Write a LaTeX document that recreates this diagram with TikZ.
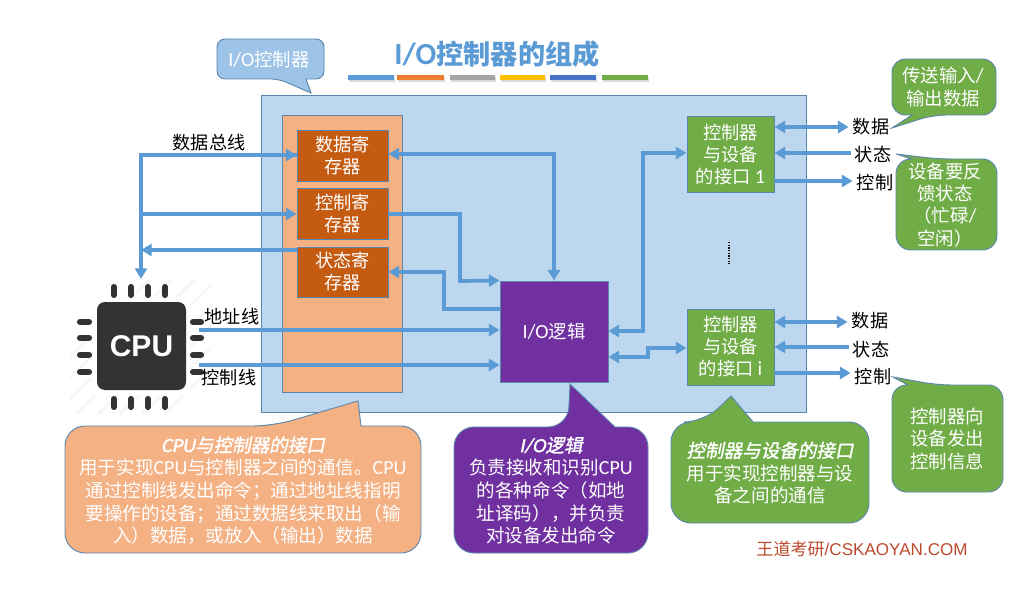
\documentclass[tikz,border=0pt]{standalone}
\usepackage{fontspec}
\usetikzlibrary{arrows.meta}
\setmainfont{Noto Sans CJK SC}
\newfontfamily\latf{Carlito}
\newfontfamily\arialf{Liberation Sans}
\newfontfamily\cjkbi[FakeSlant=0.2,FakeBold=1.5]{Noto Sans CJK SC}
\newfontfamily\latbi[FakeSlant=0.2,FakeBold=1.5]{Carlito}
\newcommand\la[1]{{\latf\fontsize{15pt}{16pt}\selectfont #1}}
\definecolor{edgeblue}{HTML}{5A86AE}
\definecolor{linkblue}{HTML}{5B9BD5}
\definecolor{panelblue}{HTML}{BDD7EE}
\definecolor{peach}{HTML}{F4B183}
\definecolor{rust}{HTML}{C55A11}
\definecolor{violet}{HTML}{7030A0}
\definecolor{leaf}{HTML}{70AD47}
\definecolor{sky}{HTML}{9DC3E6}
\definecolor{brand}{HTML}{BC4A2C}
\tikzset{
  shell/.style={draw=edgeblue,line width=0.7pt,inner sep=0pt,text=white,align=center,
    font=\fontsize{13.7pt}{16.5pt}\selectfont},
  link/.style={draw=linkblue,line width=2.8pt,miter limit=10},
  oneway/.style={link,-{Triangle[length=8pt,width=9pt]}},
  twoway/.style={link,{Triangle[length=8pt,width=9pt]}-{Triangle[length=8pt,width=9pt]}},
  lab/.style={inner sep=3pt,text=black,font=\fontsize{13.6pt}{16pt}\selectfont},
  note/.style={draw=edgeblue,line width=0.7pt},
  notetext/.style={inner sep=0pt,text=white,align=center,font=\fontsize{13.9pt}{17pt}\selectfont},
  sidetext/.style={inner sep=0pt,text=white,align=center,font=\fontsize{13.8pt}{16.6pt}\selectfont},
  pin/.style={draw=black!80,line width=4.6pt,line cap=round}
}
\begin{document}
\begin{tikzpicture}[x=0.75pt,y=-0.75pt]
\useasboundingbox (0,0) rectangle (1017,602);
\fill[white] (0,0) rectangle (1017,602);

% title and coloured rule
\node[inner sep=0pt,text=linkblue,font=\fontsize{20.4pt}{24pt}\selectfont\bfseries] (title) at (497,54) {{\latf\fontsize{23pt}{24pt}\selectfont\bfseries I/O}控制器的组成};
\foreach \xa/\xb/\c in {348/394/5B9BD5,397/444/ED7D31,450/495/A5A5A5,500/545/FFC000,550/596/4472C4,602/648/70AD47}{
  \fill[black,opacity=0.15] (\xa+1,77) rectangle (\xb+1,82);
  \definecolor{barc}{HTML}{\c}
  \fill[barc] (\xa,75) rectangle (\xb,80);
}

% controller body
\node[shell,fill=panelblue,minimum width=545*0.75pt,minimum height=317*0.75pt] (ctrl) at (533.5,253.5) {};
\node[shell,fill=peach,minimum width=120*0.75pt,minimum height=277*0.75pt] (side) at (342,253.5) {};
\node[shell,fill=rust,minimum width=91*0.75pt,minimum height=51*0.75pt] (regdata) at (342.5,155.5) {数据寄\\存器};
\node[shell,fill=rust,minimum width=91*0.75pt,minimum height=51*0.75pt] (regctrl) at (342.5,213.5) {控制寄\\存器};
\node[shell,fill=rust,minimum width=91*0.75pt,minimum height=50*0.75pt] (regstat) at (342.5,272) {状态寄\\存器};
\node[shell,fill=violet,minimum width=108*0.75pt,minimum height=101*0.75pt] (iologic) at (554,331.5) {\la{I/O}逻辑};
\node[shell,fill=leaf,minimum width=87*0.75pt,minimum height=76*0.75pt] (portone) at (730.5,154.5) {控制器\\与设备\\的接口 \la{1}};
\node[shell,fill=leaf,minimum width=87*0.75pt,minimum height=76*0.75pt] (porti) at (730.5,347) {控制器\\与设备\\的接口 \la{i}};
\coordinate (gapa) at (729,242);
\coordinate (gapb) at (729,264);
\draw[black,line width=1.2pt,dash pattern=on 1pt off 1pt] (gapa) -- (gapb);

% processor chip
\begin{scope}
  \clip (70,280) rectangle (212,414);
  \foreach \k in {0,...,7}
    \draw[black!3,line width=2.4pt] (70+\k*22-60,414) -- (70+\k*22+80,280);
\end{scope}
\fill[white] (92,297) rectangle (190,395);
\foreach \x in {114,131,148,165}{
  \draw[pin] (\x,287) -- (\x,295);
  \draw[pin] (\x,399) -- (\x,407);
}
\foreach \y in {322,338,355,372}{
  \draw[pin] (80,\y) -- (89,\y);
  \draw[pin] (193,\y) -- (201,\y);
}
\node[fill=black!80,rounded corners=6pt,minimum width=89*0.75pt,minimum height=88*0.75pt,inner sep=0pt,text=white,font=\fontsize{22.5pt}{26pt}\selectfont\arialf\bfseries] (cpu) at (141.5,346) {CPU};

% signal labels
\node[lab] (busname) at (209,143) {数据总线};
\node[lab] (addrname) at (232,317) {地址线};
\node[lab] (ctlname) at (229,378) {控制线};
\node[lab] (dataone) at (871,127) {数据};
\node[lab] (statone) at (873,155) {状态};
\node[lab] (ctlone) at (875,183) {控制};
\node[lab] (datai) at (870,321) {数据};
\node[lab] (stati) at (871,350) {状态};
\node[lab] (ctli) at (873,377) {控制};

% buses on the processor side
\coordinate (bustop) at (141,155);
\coordinate (busmid) at (141,214);
\coordinate (busin) at (141,250);
\coordinate (cpuport) at (141,279);
\coordinate (addrout) at (199,330);
\coordinate (ctlout) at (199,365);
\draw[oneway] (regdata.west |- bustop) -- (bustop) -- (cpuport);
\draw[oneway] (bustop) -- (regdata.west |- bustop);
\draw[oneway] (busmid) -- (regctrl.west |- busmid);
\draw[oneway] (regstat.west |- busin) -- (busin);
\draw[oneway] (addrout) -- (iologic.west |- addrout);
\draw[oneway] (ctlout) -- (iologic.west |- ctlout);

% registers to the I/O logic
\draw[twoway] (regdata.east |- 0,154) -- (iologic.north |- 0,154) -- (iologic.north);
\draw[oneway] (regctrl.east |- 0,214) -- (460,214) -- (460,281) -- (iologic.north west);
\draw[oneway] (iologic.west |- 0,309) -- (444,309) -- (444,272) -- (regstat.east);

% I/O logic to the device interfaces
\draw[twoway] (iologic.east |- 0,331) -- (643,331) -- (643,153) -- (portone.west |- 0,153);
\draw[twoway] (iologic.east |- 0,357) -- (648,357) -- (648,348) -- (porti.west |- 0,348);

% device signals
\draw[twoway] (portone.east |- 0,127) -- (dataone.west |- 0,127);
\draw[oneway] (statone.west |- 0,153) -- (portone.east |- 0,153);
\draw[oneway] (portone.east |- 0,181) -- (ctlone.west |- 0,181);
\draw[twoway] (porti.east |- 0,322) -- (datai.west |- 0,322);
\draw[oneway] (stati.west |- 0,347) -- (porti.east |- 0,347);
\draw[oneway] (porti.east |- 0,373) -- (ctli.west |- 0,373);

% speech bubbles
\path[note,fill=sky,rounded corners=6pt] (306,79) -- (324,79) -- (324,39) -- (217,39) -- (217,79) -- (279,79) [sharp corners] -- (311,93) -- cycle;
\node[sidetext] (ctrlname) at (269,60) {\la{I/O}控制器};

\path[note,fill=leaf,rounded corners=10pt] (912,115) -- (892,115) -- (892,59) -- (996,59) -- (996,115) -- (933,115) [sharp corners] -- (892,128) -- cycle;
\node[sidetext] (notedata) at (943,87) {传送输入\la{/}\\输出数据};

\path[note,fill=leaf,rounded corners=11pt] (912,159) -- (896,159) -- (896,250) -- (997,250) -- (997,159) -- (937,159) [sharp corners] -- (896,154) -- cycle;
\node[sidetext] (notestat) at (945,205) {设备要反\\馈状态\\（忙碌\la{/}\\空闲）};

\path[note,fill=leaf,rounded corners=11pt] (908,385) -- (892,385) -- (892,492) -- (1003,492) -- (1003,385) -- (937,385) [sharp corners] -- (893,377) -- cycle;
\node[sidetext] (notectl) at (947,439) {控制器向\\设备发出\\控制信息};

\path[note,fill=peach,rounded corners=15pt] (361,426) -- (421,426) -- (421,553) -- (65,553) -- (65,426) -- (273,426) [sharp corners] -- (358,401) -- cycle;
\node[notetext] (notecpu) at (243,490.5) {{\latbi\fontsize{15pt}{16pt}\selectfont CPU\cjkbi\fontsize{13.9pt}{16pt}\selectfont 与控制器的接口}\\用于实现\la{CPU}与控制器之间的通信。\la{CPU}\\通过控制线发出命令；通过地址线指明\\要操作的设备；通过数据线来取出（输\\入）数据，或放入（输出）数据};

\path[note,fill=violet,rounded corners=15pt] (615,427) -- (648,427) -- (648,553) -- (454,553) -- (454,427) -- (568,427) [sharp corners] -- (570,384) -- cycle;
\node[notetext] (notelogic) at (551,490.5) {{\latbi\fontsize{15pt}{16pt}\selectfont I/O\cjkbi\fontsize{13.9pt}{16pt}\selectfont 逻辑}\\负责接收和识别\la{CPU}\\的各种命令（如地\\址译码），并负责\\对设备发出命令};

\path[note,fill=leaf,rounded corners=15pt] (753,422) -- (869,422) -- (869,523) -- (671,523) -- (671,422) -- (704,422) [sharp corners] -- (731,396) -- cycle;
\node[notetext] (noteport) at (770,473) {{\cjkbi 控制器与设备的接口}\\用于实现控制器与设\\备之间的通信};

% publisher mark
\node[inner sep=0pt,text=brand,font=\fontsize{12.8pt}{15pt}\selectfont] (mark) at (862,549) {王道考研{\arialf /CSKAOYAN.COM}};
\end{tikzpicture}
\end{document}
